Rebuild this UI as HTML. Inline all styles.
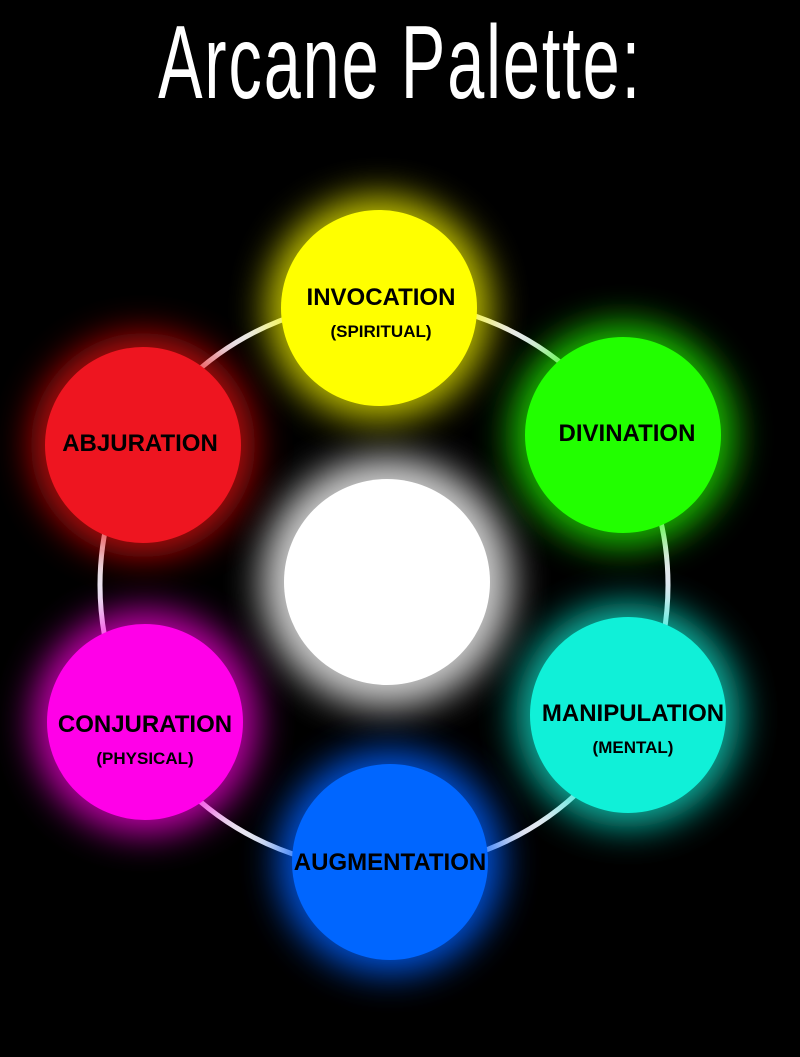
<!DOCTYPE html>
<html><head><meta charset="utf-8"><style>
html,body{margin:0;padding:0;background:#000;}
body{width:800px;height:1057px;position:relative;overflow:hidden;font-family:"Liberation Sans",sans-serif;}
.title{position:absolute;left:0;width:800px;top:8px;text-align:center;color:#fff;font-size:104px;line-height:110px;}
.title span{display:inline-block;transform:scaleX(0.64);transform-origin:center;letter-spacing:3px;}
.c{position:absolute;width:196px;height:196px;border-radius:50%;}
.t{position:absolute;width:240px;text-align:center;color:#000;font-weight:bold;}
.t b{display:block;font-size:24px;}
.t i{display:block;font-style:normal;font-size:17px;margin-top:10px;}
</style></head><body>
<svg width="800" height="1057" style="position:absolute;left:0;top:0">
<defs>
<filter id="g" x="-50%" y="-50%" width="200%" height="200%"><feGaussianBlur stdDeviation="18"/></filter>
</defs>
<circle cx="384" cy="585" r="284" fill="none" stroke="#e8e8f0" stroke-width="5"/>
<circle cx="387" cy="582" r="125" fill="#fff" opacity="0.8" filter="url(#g)"/>
<circle cx="379" cy="308" r="112" fill="#ffff00" opacity="0.75" filter="url(#g)"/>
<circle cx="623" cy="435" r="112" fill="#22ff00" opacity="0.75" filter="url(#g)"/>
<circle cx="628" cy="715" r="112" fill="#10f0d8" opacity="0.75" filter="url(#g)"/>
<circle cx="390" cy="862" r="112" fill="#0060ff" opacity="0.85" filter="url(#g)"/>
<circle cx="145" cy="722" r="112" fill="#ff00e0" opacity="0.75" filter="url(#g)"/>
<circle cx="143" cy="445" r="112" fill="#ee1111" opacity="0.75" filter="url(#g)"/>
<circle cx="387" cy="582" r="103" fill="#fff"/>
</svg>
<div class="title"><span>Arcane Palette:</span></div>
<div class="c" style="left:281px;top:210px;background:#ffff00"></div>
<div class="c" style="left:525px;top:337px;background:#22ff00"></div>
<div class="c" style="left:530px;top:617px;background:#10f0d8"></div>
<div class="c" style="left:292px;top:764px;background:#0066ff"></div>
<div class="c" style="left:47px;top:624px;background:#ff00e8"></div>
<div class="c" style="left:45px;top:347px;background:#ee1520"></div>
<div class="t" style="left:261px;top:284px"><b>INVOCATION</b><i>(SPIRITUAL)</i></div>
<div class="t" style="left:507px;top:420px"><b>DIVINATION</b></div>
<div class="t" style="left:513px;top:700px"><b>MANIPULATION</b><i>(MENTAL)</i></div>
<div class="t" style="left:270px;top:849px"><b>AUGMENTATION</b></div>
<div class="t" style="left:25px;top:711px"><b>CONJURATION</b><i>(PHYSICAL)</i></div>
<div class="t" style="left:20px;top:430px"><b>ABJURATION</b></div>
</body></html>
